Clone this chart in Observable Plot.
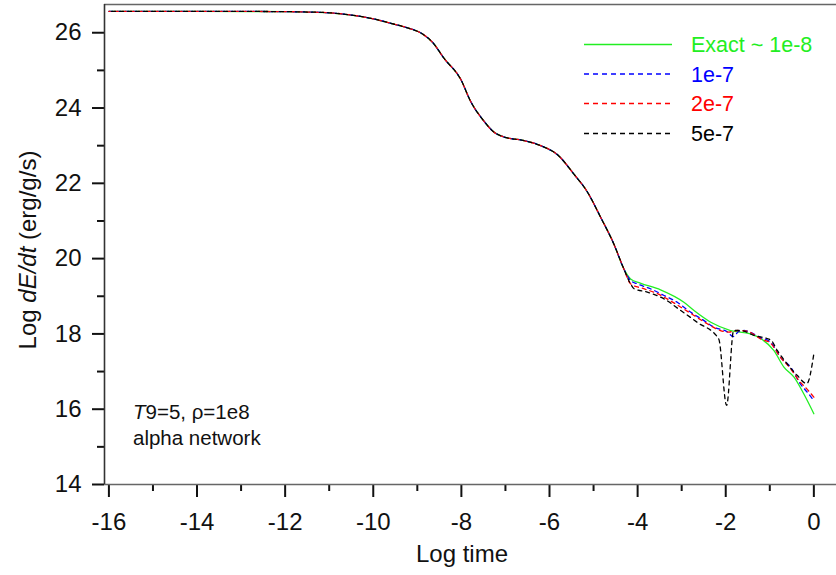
<!DOCTYPE html>
<html><head><meta charset="utf-8">
<script src="https://cdn.jsdelivr.net/npm/d3@7"></script>
<script src="https://cdn.jsdelivr.net/npm/@observablehq/plot@0.6"></script>
<style>body{margin:0;background:#fff}</style>
</head><body><div id="chart"></div>
<script>
// Shared early part of all four curves (log time, log dE/dt)
const commonTime = [-16, -14, -12, -11.5, -11, -10.5, -10, -9.6, -9.2, -8.9, -8.65, -8.4, -8.0, -7.8, -7.5, -7.26, -7.03, -6.6, -6.2, -5.8, -5.45, -5.14, -4.84, -4.54, -4.31];
const commonRate = [26.57, 26.57, 26.56, 26.55, 26.53, 26.47, 26.37, 26.25, 26.12, 25.98, 25.74, 25.33, 24.73, 24.2, 23.67, 23.36, 23.23, 23.14, 23.0, 22.74, 22.25, 21.77, 21.1, 20.39, 19.72];

// Tails, where the runs split
const exactTime = [-4.16, -3.94, -3.48, -2.95, -2.72, -2.34, -1.89, -1.44, -1.21, -0.91, -0.68, -0.45, -0.23, 0];
const exactRate = [19.46, 19.35, 19.17, 18.84, 18.62, 18.31, 18.09, 18.0, 17.88, 17.56, 17.12, 16.85, 16.41, 15.88];

const e1Time = [-4.16, -4.01, -3.71, -3.4, -3.1, -2.8, -2.5, -2.27, -1.96, -1.83, -1.7, -1.59, -1.21, -0.98, -0.76, -0.53, -0.31, -0.12, 0];
const e1Rate = [19.42, 19.33, 19.2, 19.02, 18.84, 18.58, 18.36, 18.18, 18.05, 17.93, 18.07, 18.09, 17.9, 17.78, 17.38, 17.12, 16.68, 16.41, 16.23];

const e2Time = [-4.16, -3.86, -3.55, -3.33, -3.02, -2.72, -2.42, -2.12, -1.93, -1.74, -1.51, -1.21, -0.98, -0.76, -0.53, -0.31, -0.16, 0];
const e2Rate = [19.33, 19.2, 19.07, 18.93, 18.71, 18.49, 18.27, 18.09, 18.05, 18.09, 18.07, 17.87, 17.75, 17.38, 17.08, 16.72, 16.54, 16.32];

const e5Time = [-4.16, -4.08, -3.78, -3.4, -3.02, -2.65, -2.16, -1.98, -1.82, -1.66, -1.36, -0.98, -0.83, -0.61, -0.38, -0.16, 0];
const e5Rate = [19.33, 19.2, 19.11, 18.93, 18.62, 18.31, 17.87, 16.1, 18.09, 18.09, 17.96, 17.84, 17.56, 17.21, 16.9, 16.68, 17.47];

const seriesNames = ["Exact ~ 1e-8", "1e-7", "2e-7", "5e-7"];
const seriesColors = ["#22ee22", "#0000ff", "#ff0000", "#000000"];
const seriesDash = [null, "4,4", "4,4", "4,4"];
const seriesDashOffset = [0, 0, 2.7, 5.3];

const xMajor = [-16, -14, -12, -10, -8, -6, -4, -2, 0];
const xMinor = [-15, -13, -11, -9, -7, -5, -3, -1];
const yMajor = [14, 16, 18, 20, 22, 24, 26];
const yMinor = [15, 17, 19, 21, 23, 25];

const xDomain = [-16.1, 0.514];
const yDomain = [14, 26.75];

const tails = [[exactTime, exactRate], [e1Time, e1Rate], [e2Time, e2Rate], [e5Time, e5Rate]];
const seriesRows = tails.map(([tt, rr], i) => {
  const rows = commonTime.map((t, k) => ({t, r: commonRate[k], s: seriesNames[i]}));
  tt.forEach((t, k) => rows.push({t, r: rr[k], s: seriesNames[i]}));
  return rows;
});

const font = "'Liberation Sans', Arial, sans-serif";
const plot = Plot.plot({
  width: 836, height: 575,
  marginLeft: 104, marginRight: 0, marginTop: 4, marginBottom: 91,
  style: {fontFamily: font, background: "white", overflow: "visible"},
  x: {domain: xDomain},
  y: {domain: yDomain},
  marks: [
    Plot.axisX(xMajor, {tickSize: 13, tickPadding: 15, strokeWidth: 2, stroke: "#111", fontSize: 24, fill: "#111", tickFormat: d => String(d), label: null}),
    Plot.axisX(xMinor, {tickSize: 7, strokeWidth: 2, stroke: "#111", tickFormat: () => "", label: null}),
    Plot.axisY(yMajor, {tickSize: 12, tickPadding: 11, strokeWidth: 2, stroke: "#111", fontSize: 24, fill: "#111", tickFormat: d => String(d), label: null}),
    Plot.axisY(yMinor, {tickSize: 7, strokeWidth: 2, stroke: "#111", tickFormat: () => "", label: null}),
    Plot.ruleY([yDomain[0]], {stroke: "#666", strokeWidth: 1.6}),
    Plot.ruleY([yDomain[1]], {stroke: "#666", strokeWidth: 1.6}),
    Plot.ruleX([xDomain[0]], {stroke: "#333", strokeWidth: 1.6}),
    ...seriesRows.map((rows, i) => Plot.line(rows, {
      x: "t", y: "r", curve: "monotone-x",
      stroke: seriesColors[i], strokeWidth: 1.3,
      strokeDasharray: seriesDash[i], strokeDashoffset: seriesDashOffset[i]
    }))
  ]
});
document.getElementById("chart").appendChild(plot);

const svg = d3.select(plot);
// y axis title with italic part
const yl = svg.append("text").attr("transform", "translate(36,250) rotate(-90)")
  .attr("text-anchor", "middle").attr("font-size", 24).attr("font-family", font).attr("fill", "#111");
yl.append("tspan").text("Log ");
yl.append("tspan").attr("font-style", "italic").text("dE/dt");
yl.append("tspan").text(" (erg/g/s)");

// x axis title
svg.append("text").attr("x", 462).attr("y", 562).attr("text-anchor", "middle")
  .attr("font-size", 24).attr("font-family", font).attr("fill", "#111").text("Log time");

// annotation
const ann = svg.append("text").attr("x", 133).attr("y", 419).attr("text-anchor", "start")
  .attr("font-size", 20.5).attr("font-family", font).attr("fill", "#111");
ann.append("tspan").attr("font-style", "italic").text("T");
ann.append("tspan").text("9=5, ρ=1e8");
svg.append("text").attr("x", 133).attr("y", 445).attr("text-anchor", "start")
  .attr("font-size", 20.5).attr("font-family", font).attr("fill", "#111").text("alpha network");

// legend
const legY = [44.5, 74, 103.5, 133.5];
seriesNames.forEach((name, i) => {
  const g = svg.append("g");
  g.append("line").attr("x1", 584).attr("x2", 672).attr("y1", legY[i]).attr("y2", legY[i])
    .attr("stroke", seriesColors[i]).attr("stroke-width", 1.3)
    .attr("stroke-dasharray", seriesDash[i] ? "5,4" : null);
  g.append("text").attr("x", 691).attr("y", legY[i] + 7.5).attr("text-anchor", "start")
    .attr("font-size", 21.5).attr("font-family", font).attr("fill", seriesColors[i]).text(name);
});
</script>
</body></html>
